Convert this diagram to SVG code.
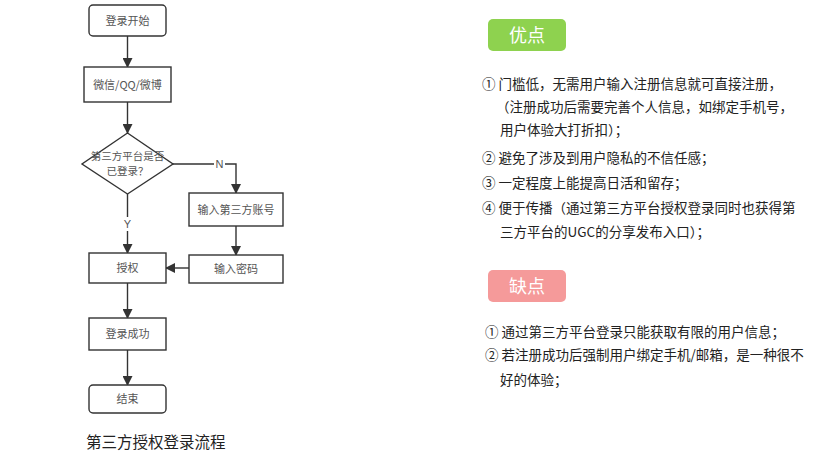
<svg xmlns="http://www.w3.org/2000/svg" width="817" height="458" viewBox="0 0 817 458">
<defs>
<marker id="ah" markerWidth="10" markerHeight="10" refX="9" refY="5" orient="auto" markerUnits="userSpaceOnUse">
<path d="M0,0 L10,5 L0,10 Z" fill="#333"/>
</marker>
<style>
.box{fill:#fff;stroke:#333;stroke-width:1.4}
.ft{font-family:"Noto Sans CJK SC","Liberation Sans",sans-serif;font-size:11px;fill:#555;text-anchor:middle}
.dt{font-family:"Noto Sans CJK SC","Liberation Sans",sans-serif;font-size:10.5px;fill:#555;text-anchor:middle}
.cn{stroke:#333;stroke-width:1.4;fill:none;marker-end:url(#ah)}
.lb{font-family:"Liberation Sans","Noto Sans CJK SC",sans-serif;font-size:11px;fill:#555;text-anchor:middle}
.tx{font-family:"Noto Sans CJK SC","Noto Sans",sans-serif;font-size:13.5px;fill:#222}
.bt{font-family:"Noto Sans CJK SC",sans-serif;font-size:18px;fill:#fff;text-anchor:middle}
</style>
</defs>
<rect width="817" height="458" fill="#fff"/>
<g id="connectors">
<line class="cn" x1="127.5" y1="36" x2="127.5" y2="67"/>
<line class="cn" x1="127.5" y1="102" x2="127.5" y2="133"/>
<polyline class="cn" points="173,164 236,164 236,193"/>
<rect x="214" y="157" width="11" height="14" fill="#fff"/>
<text class="lb" x="219.5" y="168">N</text>
<line class="cn" x1="127.5" y1="194" x2="127.5" y2="253"/>
<rect x="121" y="217" width="12" height="14" fill="#fff"/>
<text class="lb" x="127.5" y="228">Y</text>
<line class="cn" x1="236" y1="226" x2="236" y2="255"/>
<line class="cn" x1="189" y1="268" x2="166" y2="268"/>
<line class="cn" x1="127.5" y1="283" x2="127.5" y2="318"/>
<line class="cn" x1="127.5" y1="350" x2="127.5" y2="385"/>
</g>
<g id="start"><rect class="box" x="89" y="5" width="77" height="31" rx="4"/><text class="ft" x="127.5" y="24.5">登录开始</text></g>
<g id="platform"><rect class="box" x="84" y="67" width="87" height="35"/><text class="ft" x="127.5" y="88.5">微信/QQ/微博</text></g>
<g id="decision"><polygon class="box" points="127.5,133 173,164 127.5,194 82,164"/><text class="dt" x="127.5" y="159.5">第三方平台是否</text><text class="dt" x="127.5" y="175">已登录？</text></g>
<g id="account"><rect class="box" x="189" y="193" width="94" height="33"/><text class="ft" x="236" y="213.5">输入第三方账号</text></g>
<g id="password"><rect class="box" x="189" y="255" width="94" height="28"/><text class="ft" x="236" y="273">输入密码</text></g>
<g id="auth"><rect class="box" x="89" y="253" width="77" height="30"/><text class="ft" x="127.5" y="272">授权</text></g>
<g id="success"><rect class="box" x="89" y="318" width="77" height="32"/><text class="ft" x="127.5" y="338">登录成功</text></g>
<g id="end"><rect class="box" x="89" y="385" width="77" height="28" rx="4"/><text class="ft" x="127.5" y="403">结束</text></g>
<text x="86" y="448" font-family="Noto Sans CJK SC,sans-serif" font-size="15.5" fill="#222">第三方授权登录流程</text>
<g id="pros">
<rect x="488" y="19" width="78" height="32" rx="5" fill="#8ed24f"/>
<text class="bt" x="527" y="41.5">优点</text>
<text class="tx" x="482" y="89">① 门槛低，无需用户输入注册信息就可直接注册，</text>
<text class="tx" x="496" y="112">（注册成功后需要完善个人信息，如绑定手机号，</text>
<text class="tx" x="500" y="135">用户体验大打折扣）；</text>
<text class="tx" x="482" y="163">② 避免了涉及到用户隐私的不信任感；</text>
<text class="tx" x="482" y="188">③ 一定程度上能提高日活和留存；</text>
<text class="tx" x="482" y="213">④ 便于传播（通过第三方平台授权登录同时也获得第</text>
<text class="tx" x="500" y="237">三方平台的UGC的分享发布入口）；</text>
</g>
<g id="cons">
<rect x="488" y="270" width="78" height="32" rx="5" fill="#f59a9a"/>
<text class="bt" x="527" y="292.5">缺点</text>
<text class="tx" x="485" y="337">① 通过第三方平台登录只能获取有限的用户信息；</text>
<text class="tx" x="485" y="360">② 若注册成功后强制用户绑定手机/邮箱，是一种很不</text>
<text class="tx" x="500" y="385">好的体验；</text>
</g>
</svg>
